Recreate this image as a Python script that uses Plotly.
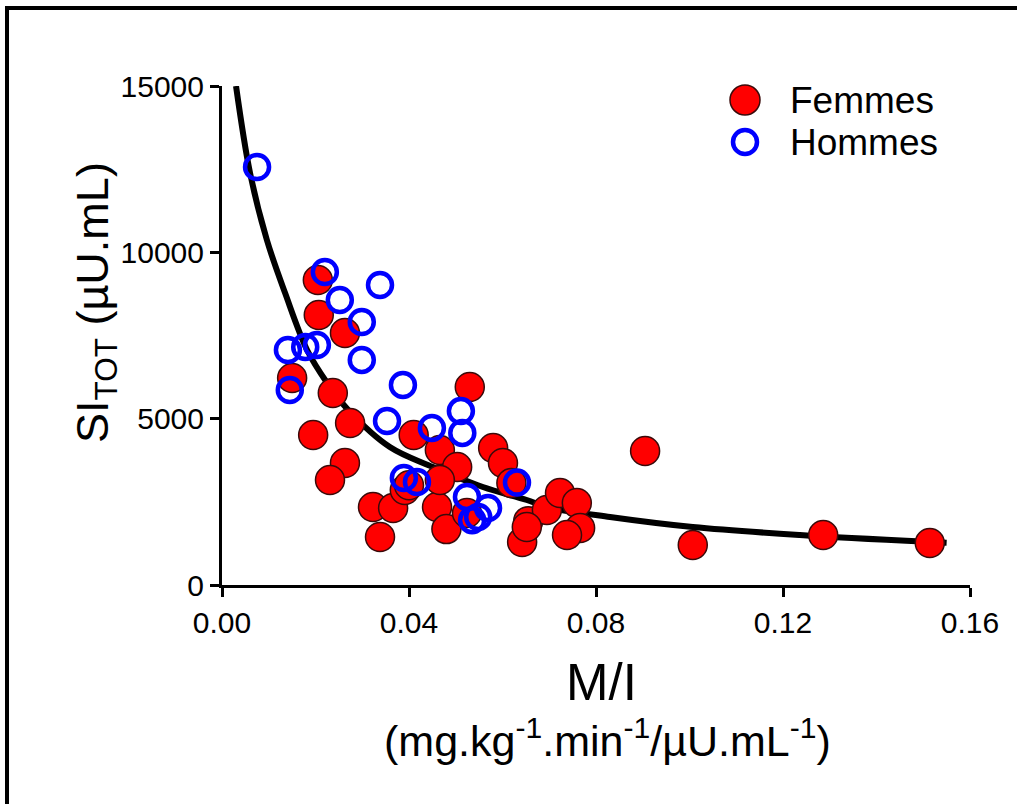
import plotly.graph_objects as go

# Femmes (filled red)
femmes_x = [0.0150, 0.0205, 0.0207, 0.0263, 0.0237, 0.0195, 0.0274, 0.0263, 0.0231, 0.0410,
            0.0323, 0.0366, 0.0338, 0.0391, 0.0460, 0.0480, 0.0466, 0.0530, 0.0503, 0.0580,
            0.0601, 0.0619, 0.0466, 0.0400, 0.0655, 0.0642, 0.0524, 0.0695, 0.0723, 0.0759,
            0.0766, 0.0738, 0.0652, 0.0905, 0.1007, 0.1286, 0.1514]
femmes_y = [6222, 9168, 8116, 7575, 5771, 4509, 4870, 3667, 3156, 4509,
            2345, 2315, 1443, 2856, 2345, 1680, 4058, 5952, 3547, 4118,
            3667, 3066, 3156, 3000, 1920, 1292, 2164, 2255, 2766, 2465,
            1713, 1503, 1743, 4028, 1202, 1503, 1262]

# Hommes (open blue)
hommes_x = [0.0075, 0.0220, 0.0252, 0.0338, 0.0299, 0.0141, 0.0178, 0.0203, 0.0299, 0.0145,
            0.0387, 0.0353, 0.0449, 0.0511, 0.0514, 0.0389, 0.0417, 0.0524, 0.0548, 0.0569,
            0.0631, 0.0535]
hommes_y = [12565, 9409, 8567, 9018, 7906, 7064, 7154, 7214, 6764, 5862,
            6012, 4930, 4720, 5230, 4570, 3216, 3096, 2645, 2044, 2315,
            3080, 1950]

# Fitted curve
curve_x = [0.0030, 0.0060, 0.0096, 0.0135, 0.0182, 0.0225, 0.0270, 0.0359, 0.0451, 0.0558,
           0.0652, 0.0695, 0.0830, 0.1007, 0.1236, 0.1514, 0.1550]
curve_y = [15000, 12385, 10371, 8777, 7064, 6072, 5261, 4148, 3547, 2946,
           2555, 2345, 2044, 1743, 1503, 1293, 1270]

x_ticks = [0.00, 0.04, 0.08, 0.12, 0.16]
x_tick_labels = ["0.00", "0.04", "0.08", "0.12", "0.16"]
y_ticks = [0, 5000, 10000, 15000]
y_tick_labels = ["0", "5000", "10000", "15000"]

series_names = ["Femmes", "Hommes"]
RED, BLUE = "#FF0000", "#0000FF"

FONT = "Liberation Sans, Arial, sans-serif"

fig = go.Figure()
fig.add_trace(go.Scatter(x=curve_x, y=curve_y, mode="lines", line=dict(color="black", width=6, shape="spline"),
                         showlegend=False, hoverinfo="skip"))
fig.add_trace(go.Scatter(x=femmes_x, y=femmes_y, mode="markers", name=series_names[0], showlegend=False,
                         marker=dict(symbol="circle", size=29, color=RED,
                                     line=dict(color="#3a0a0a", width=1.5))))
fig.add_trace(go.Scatter(x=hommes_x, y=hommes_y, mode="markers", name=series_names[1], showlegend=False,
                         marker=dict(symbol="circle-open", size=24, color=BLUE,
                                     line=dict(color=BLUE, width=4.5))))

L, R, T, B = 222, 47, 86, 219
W, H = 1017, 804
pw, ph = W - L - R, H - T - B

def px(xp):
    return (xp - L) / pw

def py(yp):
    return (H - B - yp) / ph

def circ(cx, cy, r, fill, line_color, lw):
    return dict(type="circle", xref="paper", yref="paper",
                x0=px(cx - r), x1=px(cx + r), y0=py(cy + r), y1=py(cy - r),
                fillcolor=fill, line=dict(color=line_color, width=lw))

fig.update_layout(
    width=W, height=H,
    margin=dict(l=L, r=R, t=T, b=B),
    paper_bgcolor="white", plot_bgcolor="white",
    font=dict(family=FONT, color="black"),
    xaxis=dict(range=[0, 0.16], tickvals=x_ticks, ticktext=x_tick_labels,
               showline=True, linecolor="black", linewidth=3, ticks="outside", ticklen=9,
               tickwidth=3, tickcolor="black", showgrid=False, zeroline=False,
               tickfont=dict(size=30, family=FONT, color="black")),
    yaxis=dict(range=[0, 15000], tickvals=y_ticks, ticktext=y_tick_labels,
               showline=True, linecolor="black", linewidth=3, ticks="outside", ticklen=9,
               tickwidth=3, tickcolor="black", showgrid=False, zeroline=False,
               tickfont=dict(size=30, family=FONT, color="black")),
    showlegend=False,
    annotations=[
        dict(text="SI<sub>TOT</sub> (µU.mL)", x=px(95), y=py(302), xref="paper", yref="paper",
             textangle=-90, showarrow=False, font=dict(size=45, family=FONT, color="black"),
             xanchor="center", yanchor="middle"),
        dict(text="M/I", x=px(601), y=py(682), xref="paper", yref="paper",
             showarrow=False, font=dict(size=51, family=FONT, color="black"),
             xanchor="center", yanchor="middle"),
        dict(text="(mg.kg<sup>-1</sup>.min<sup>-1</sup>/µU.mL<sup>-1</sup>)", x=px(607), y=py(738),
             xref="paper", yref="paper", showarrow=False,
             font=dict(size=43, family=FONT, color="black"), xanchor="center", yanchor="middle"),
        dict(text=series_names[0], x=px(788), y=py(100), xref="paper", yref="paper", showarrow=False,
             font=dict(size=37, family=FONT, color="black"), xanchor="left", yanchor="middle"),
        dict(text=series_names[1], x=px(788), y=py(142), xref="paper", yref="paper", showarrow=False,
             font=dict(size=37, family=FONT, color="black"), xanchor="left", yanchor="middle"),
    ],
    shapes=[
        dict(type="line", xref="paper", yref="paper", x0=px(5), x1=px(1030), y0=py(8), y1=py(8),
             line=dict(color="black", width=4)),
        dict(type="line", xref="paper", yref="paper", x0=px(7), x1=px(7), y0=py(6), y1=py(820),
             line=dict(color="black", width=4)),
        circ(745, 100, 15, RED, "#3a0a0a", 1.5),
        circ(745, 142, 12, "rgba(0,0,0,0)", BLUE, 4.5),
    ],
)

fig.write_html("out.html", config={"displayModeBar": False},
               post_script="document.body.style.margin='0';")
